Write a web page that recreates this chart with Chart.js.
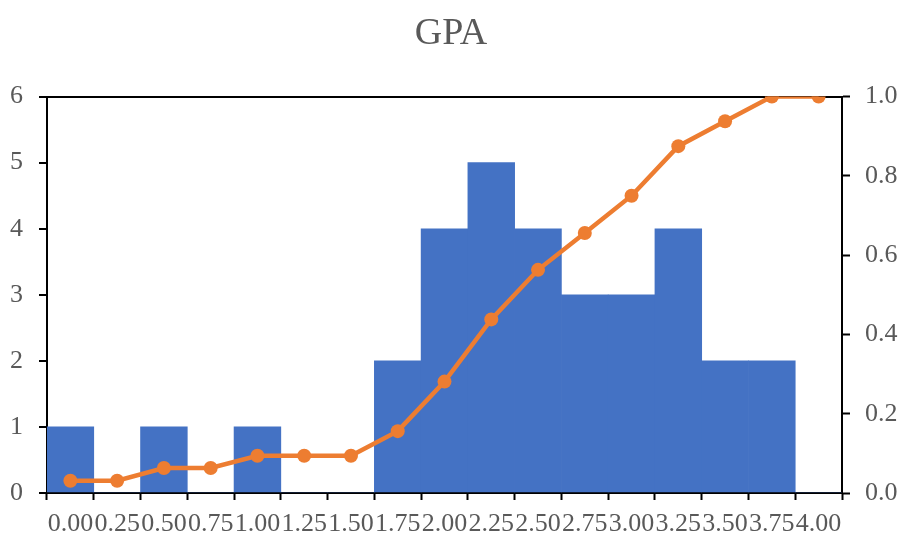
<!DOCTYPE html>
<html>
<head>
<meta charset="utf-8">
<script src="https://cdn.jsdelivr.net/npm/chart.js@4/dist/chart.umd.min.js"></script>
<style>
  html, body { margin: 0; padding: 0; background: #fff; }
  #wrap { width: 902px; height: 536px; }
</style>
</head>
<body>
<div id="wrap"><canvas id="chart" width="902" height="536"></canvas></div>
<script>
const binLabels = ["0.00", "0.25", "0.50", "0.75", "1.00", "1.25", "1.50", "1.75", "2.00",
  "2.25", "2.50", "2.75", "3.00", "3.25", "3.50", "3.75", "4.00"];
const frequency = [1, 0, 1, 0, 1, 0, 0, 2, 4, 5, 4, 3, 3, 4, 2, 2, 0];
const cumulative = [0.031, 0.031, 0.063, 0.063, 0.094, 0.094, 0.094, 0.156, 0.281,
  0.438, 0.563, 0.656, 0.75, 0.875, 0.938, 1.0, 1.0];

const textColor = "#595959";
const font = { family: "'Liberation Serif', serif", size: 26 };

new Chart(document.getElementById("chart"), {
  data: {
    labels: binLabels,
    datasets: [
      {
        type: "line",
        data: cumulative,
        yAxisID: "y1",
        order: 0,
        borderColor: "#ED7D31",
        backgroundColor: "#ED7D31",
        borderWidth: 4.5,
        pointRadius: 7,
        pointBorderWidth: 0,
        pointBackgroundColor: "#ED7D31",
        tension: 0,
      },
      {
        type: "bar",
        data: frequency,
        yAxisID: "y",
        order: 1,
        backgroundColor: "#4472C4",
        barPercentage: 1,
        categoryPercentage: 1,
      },
    ],
  },
  options: {
    responsive: false,
    animation: false,
    plugins: {
      legend: { display: false },
      tooltip: { enabled: false },
      title: {
        display: true,
        text: "GPA",
        color: textColor,
        font: { family: "'Liberation Serif', serif", size: 38, weight: "normal" },
        padding: { top: 11, bottom: 40 },
      },
    },
    scales: {
      x: {
        afterFit: (s) => { s.height = 43; },
        grid: {
          offset: true,
          color: "rgba(0,0,0,0)",
          tickColor: "#000",
          tickLength: 7,
          tickWidth: 2,
        },
        border: { display: true, color: "#000", width: 2 },
        ticks: {
          color: textColor,
          font: font,
          padding: 9,
          autoSkip: false,
          maxRotation: 0,
          minRotation: 0,
        },
      },
      y: {
        position: "left",
        min: 0,
        max: 6,
        afterFit: (s) => { s.width = 47; },
        grid: {
          color: (ctx) => (ctx.tick && ctx.tick.value === 6 ? "#000" : "rgba(0,0,0,0)"),
          lineWidth: 2,
          tickColor: "#000",
          tickLength: 8,
          tickWidth: 2,
        },
        border: { display: true, color: "#000", width: 2 },
        ticks: { stepSize: 1, color: textColor, font: font, padding: 16 },
      },
      y1: {
        position: "right",
        min: 0,
        max: 1,
        afterFit: (s) => { s.width = 60; },
        grid: {
          drawOnChartArea: false,
          color: "#000",
          tickColor: "#000",
          tickLength: 8,
          tickWidth: 2,
        },
        border: { display: true, color: "#000", width: 2 },
        ticks: {
          stepSize: 0.2,
          color: textColor,
          font: font,
          padding: 15,
          callback: (v) => v.toFixed(1),
        },
      },
    },
  },
});
</script>
</body>
</html>
